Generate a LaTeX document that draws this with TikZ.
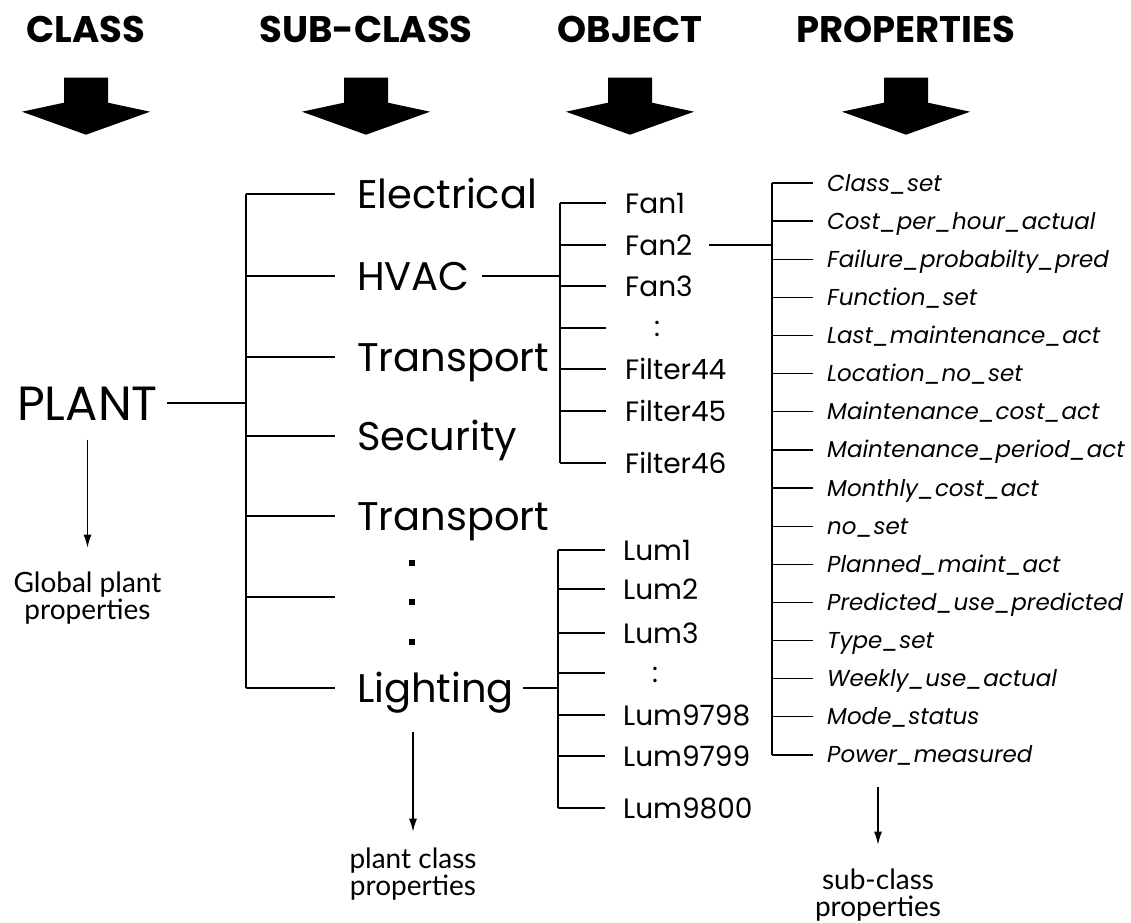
\documentclass[tikz,border=0pt]{standalone}
\usepackage{fontspec}
\setmainfont{Poppins}
\newfontfamily\notefont{Lato}
\usetikzlibrary{arrows.meta,calc}

\tikzset{
  head/.style={font=\fontsize{37}{42}\selectfont\bfseries, inner sep=0pt, text height=25pt, text depth=0pt},
  plantlbl/.style={font=\fontsize{48}{56}\selectfont, inner sep=0pt, anchor=west, text height=35pt, text depth=0pt},
  sublbl/.style={font=\fontsize{40}{48}\selectfont, inner sep=0pt, anchor=west, text height=29pt, text depth=0pt},
  objlbl/.style={font=\fontsize{28}{34}\selectfont, inner sep=0pt, anchor=west, text height=20pt, text depth=0pt},
  proplbl/.style={font=\fontsize{23}{28}\selectfont\itshape, inner sep=0pt, anchor=west, text height=16pt, text depth=0pt},
  note/.style={font=\notefont\fontsize{28}{27}\selectfont, align=center, inner sep=0pt},
  sqdot/.style={fill, rectangle, minimum size=6pt, inner sep=0pt},
  tree/.style={line width=1.3pt},
  down/.style={line width=1.2pt, -{Latex[length=13pt,width=8pt]}},
}

\begin{document}
\begin{tikzpicture}[x=1pt,y=-1pt]
\useasboundingbox (0,0) rectangle (1131,922);

% headers and block arrows
\node[head] (cls) at (86,30) {CLASS};
\node[head] (sub) at (366,30) {SUB-CLASS};
\node[head] (obj) at (630,30) {OBJECT};
\node[head] (prop) at (906,30) {PROPERTIES};
\foreach \h in {cls,sub,obj,prop}
  \fill[shift={(\h.south)}] (-22,35) -- (22,35) -- (22,60) -- (64,69) -- (0,92) -- (-64,69) -- (-22,60) -- cycle;

% class
\node[plantlbl] (plant) at (17,403) {PLANT};
\node[note] (gpp) at (plant.south |- 0,598) {Global plant\\properties};
\draw[down] ([yshift=-19pt]plant.south) -- ([yshift=24pt]gpp.north);

% sub-classes
\coordinate (sb) at (246,0);
\node[sublbl] (elec) at (357,194) {Electrical};
\node[sublbl] (hvac) at (357,276) {HVAC};
\node[sublbl] (trans) at (357,357) {Transport};
\node[sublbl] (sec) at (357,436) {Security};
\node[sublbl] (trans2) at (357,516) {Transport};
\coordinate (sgap) at (335,597);
\node[sublbl] (light) at (357,688) {Lighting};
\node[sqdot] (d1) at (412,563) {};
\node[sqdot] (d2) at (412,602) {};
\node[sqdot] (d3) at (412,642) {};
\draw[tree] (sb |- elec.west) -- (sb |- light.west);
\foreach \n in {elec,hvac,trans,sec,trans2,light}
  \draw[tree] (sb |- \n.west) -- ([xshift=-22pt]\n.west);
\draw[tree] (sb |- sgap) -- (sgap);
\draw[tree] ([xshift=9pt]plant.east) -- (sb |- plant.east);

\node[note] (pcp) at (413,874) {plant class\\properties};
\coordinate (la) at (pcp.north |- light.south);
\draw[down] ([yshift=-29pt]la) -- ([yshift=16pt]pcp.north);

% objects of HVAC
\coordinate (ob) at (560,0);
\foreach \y/\n/\t in {203/fan1/Fan1,245/fan2/Fan2,286/fan3/Fan3,369/filt44/Filter44,411/filt45/Filter45,463/filt46/Filter46}
  \node[objlbl] (\n) at (625,\y) {\t};
\coordinate (ogap) at (606,328);
\node[objlbl,anchor=center] (fcol) at (657,326) {:};
\draw[tree] (ob |- fan1.west) -- (ob |- filt46.west);
\foreach \n in {fan1,fan2,fan3,filt44,filt45,filt46}
  \draw[tree] (ob |- \n.west) -- ([xshift=-19pt]\n.west);
\draw[tree] (ob |- ogap) -- (ogap);
\draw[tree] ([xshift=12pt]hvac.east) -- (ob |- hvac.east);

% objects of Lighting
\coordinate (lb) at (558,0);
\foreach \y/\n/\t in {550/lum1/Lum1,589/lum2/Lum2,633/lum3/Lum3,715/lum98/Lum9798,756/lum99/Lum9799,808/lum00/Lum9800}
  \node[objlbl] (\n) at (623,\y) {\t};
\coordinate (lgap) at (605,673);
\node[objlbl,anchor=center] (lcol) at (655,672) {:};
\draw[tree] (lb |- lum1.west) -- (lb |- lum00.west);
\foreach \n in {lum1,lum2,lum3,lum98,lum99,lum00}
  \draw[tree] (lb |- \n.west) -- ([xshift=-18pt]\n.west);
\draw[tree] (lb |- lgap) -- (lgap);
\draw[tree] ([xshift=9pt]light.east) -- (lb |- light.east);

% properties of Fan2
\coordinate (pb) at (772,0);
\foreach \t [count=\i] in {Class\_set,Cost\_per\_hour\_actual,Failure\_probabilty\_pred,Function\_set,Last\_maintenance\_act,Location\_no\_set,Maintenance\_cost\_act,Maintenance\_period\_act,Monthly\_cost\_act,no\_set,Planned\_maint\_act,Predicted\_use\_predicted,Type\_set,Weekly\_use\_actual,Mode\_status,Power\_measured}
  \node[proplbl] (p\i) at (827,{183+38.13*(\i-1)}) {\t};
\draw[tree] (pb |- p1.west) -- (pb |- p16.west);
\foreach \i in {1,...,16}
  \draw[tree] (pb |- p\i.west) -- ([xshift=-14pt]p\i.west);
\draw[tree] ([xshift=17pt]fan2.east) -- (pb |- fan2.east);

\node[note] (scp) at (878,895) {sub-class\\properties};
\coordinate (pa) at (scp.north |- p16.south);
\draw[down] ([yshift=-24pt]pa) -- ([yshift=24pt]scp.north);
\end{tikzpicture}
\end{document}
